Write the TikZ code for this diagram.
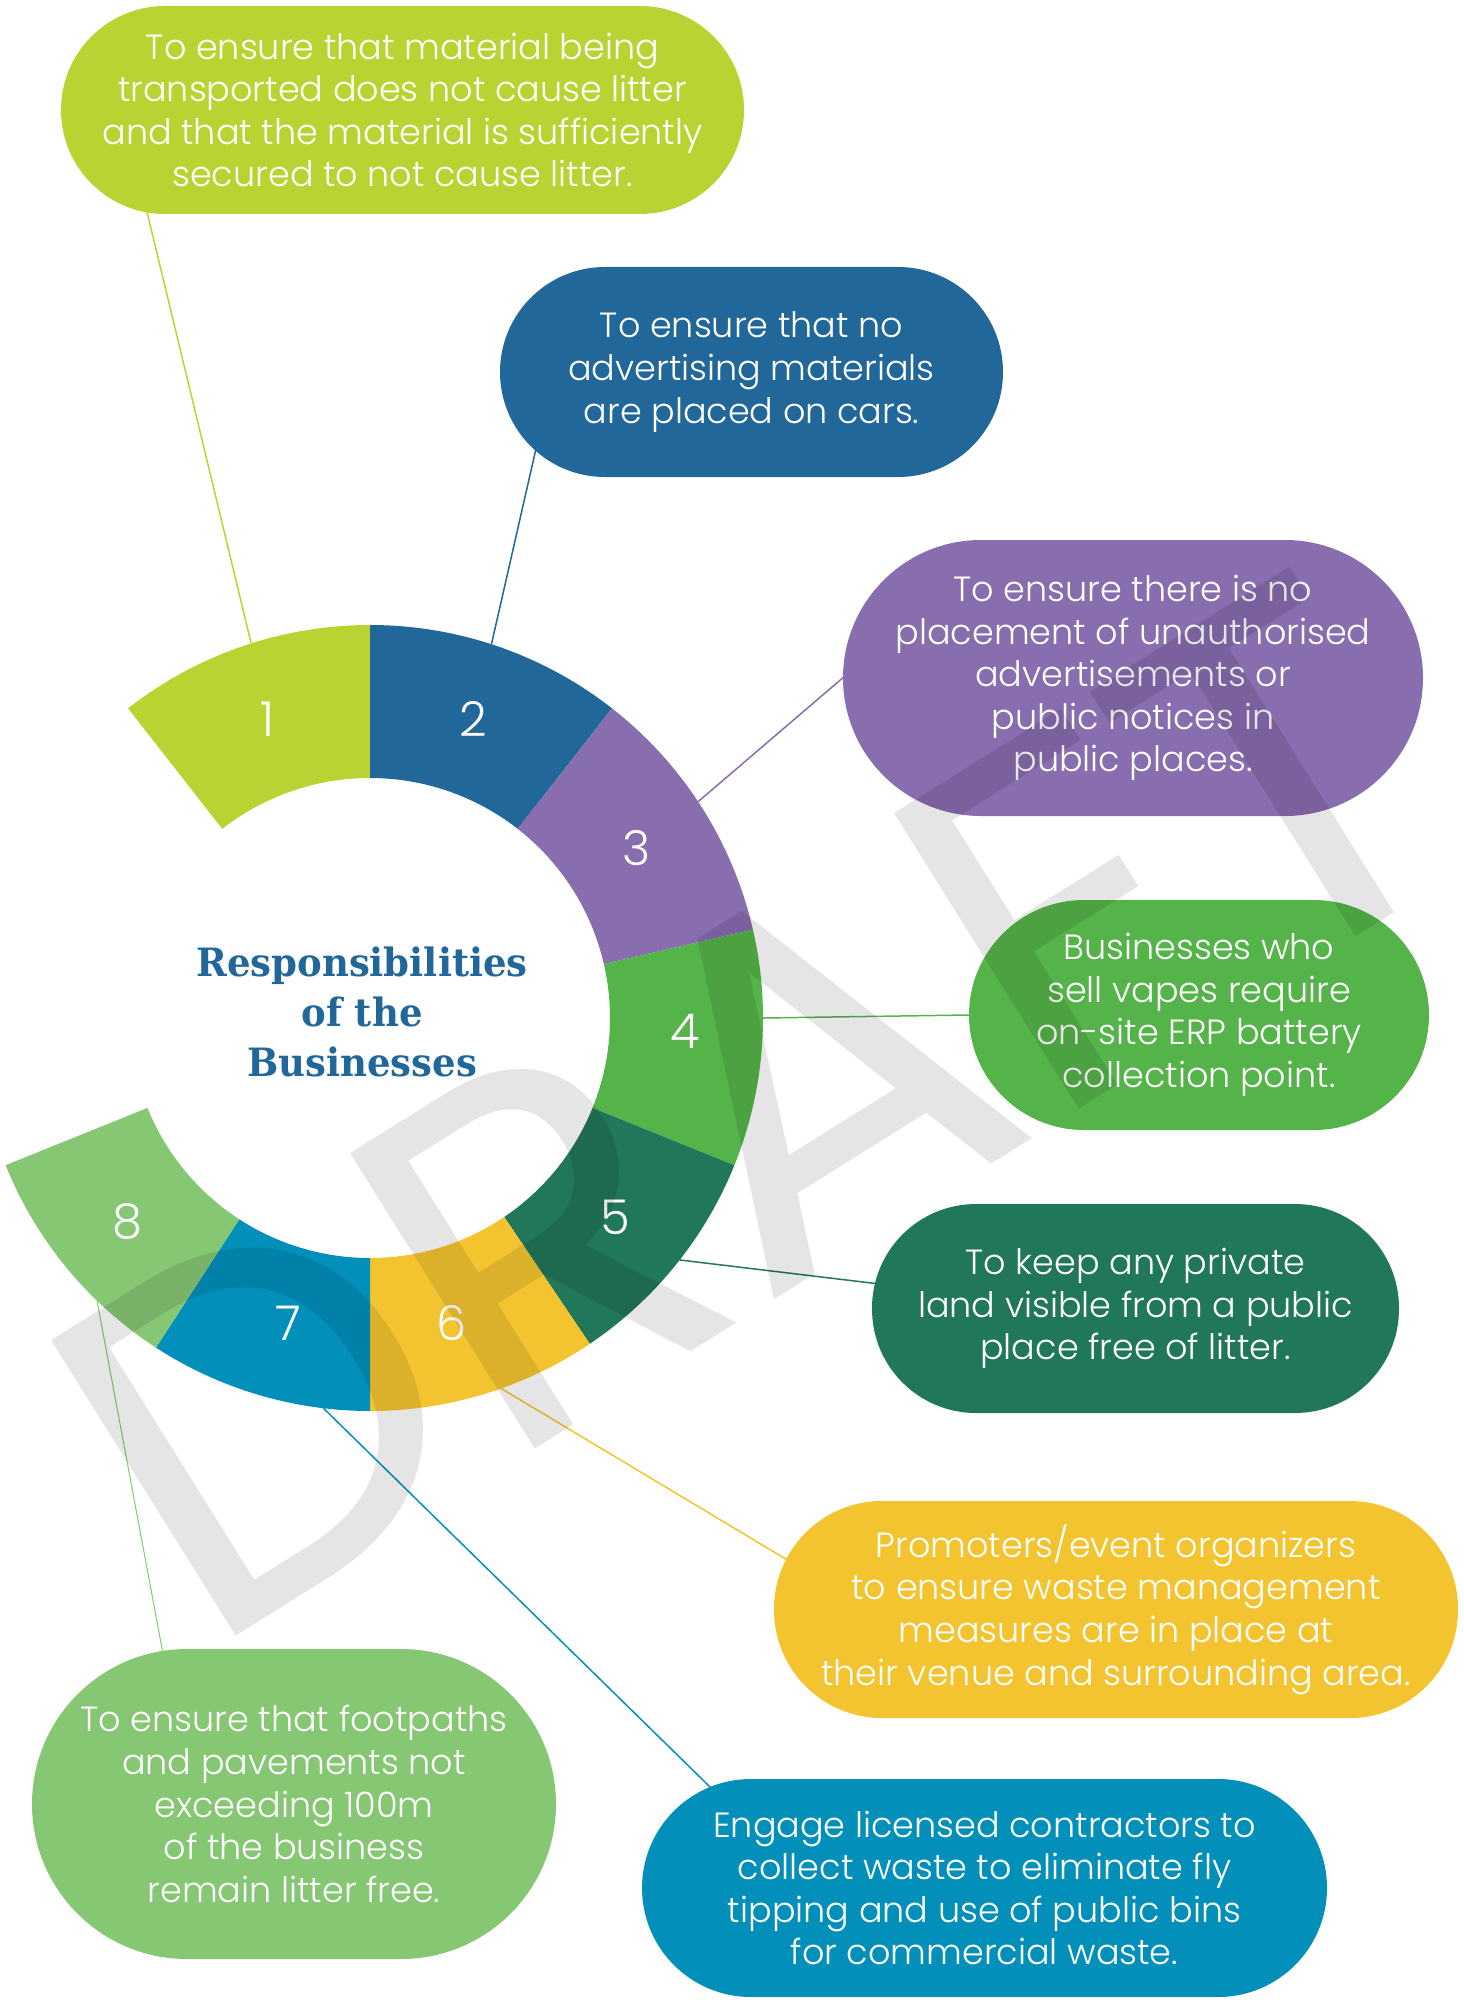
\documentclass[tikz,border=0pt]{standalone}
\usepackage{fontspec}
\setmainfont{Poppins Light}
\newfontfamily\wmfont{Poppins}
\newfontfamily\titlefont[FakeStretch=0.95]{DejaVu Serif}
\usetikzlibrary{positioning,backgrounds}

\definecolor{cone}{HTML}{B8D432}
\definecolor{ctwo}{HTML}{216799}
\definecolor{cthree}{HTML}{886DAF}
\definecolor{cfour}{HTML}{55B449}
\definecolor{cfive}{HTML}{21775A}
\definecolor{csix}{HTML}{F4C430}
\definecolor{cseven}{HTML}{0290BA}
\definecolor{ceight}{HTML}{86C774}

\begin{document}
\begin{tikzpicture}[x=0.5pt,y=-0.5pt]
\tikzstyle{box}=[rectangle,inner sep=0pt,align=center,text=white,font=\fontsize{17.5}{21.3}\selectfont]
\tikzstyle{num}=[text=white,font=\fontsize{24}{24}\selectfont]
\tikzstyle{link}=[line width=0.75pt,shorten >=-3pt]
\tikzstyle{title}=[align=center,text=ctwo,font=\titlefont\bfseries\fontsize{19.5}{25}\selectfont]
\useasboundingbox (0,0) rectangle (1463,2000);

\begin{scope}[shift={(370,1018)},yscale=-1]
\foreach \a/\b/\c/\n/\m in {90/128/cone/1/109, 52/90/ctwo/2/71, 13/52/cthree/3/32.5, -22/13/cfour/4/-2.5,
  -56/-22/cfive/5/-39, -90/-56/csix/6/-75, -123/-90/cseven/7/-105, -158/-123/ceight/8/-140}{
  \fill[\c] (\a:240) -- (\a:393) arc[start angle=\a,end angle=\b,radius=393]
    -- (\b:240) arc[start angle=\b,end angle=\a,radius=240] -- cycle;
  \node[num] (n\n) at (\m:316) {\n};
}
\coordinate (p1) at (107.6:393);
\coordinate (p2) at (72:393);
\coordinate (p3) at (33.4:393);
\coordinate (p4) at (0:393);
\coordinate (p5) at (-38:393);
\coordinate (p6) at (-70.5:393);
\coordinate (p7) at (-96.8:393);
\coordinate (p8) at (-134:393);
\end{scope}

\node[title] (title) at (362,1012) {Responsibilities\\of the\\Businesses};

\node[box,fill=cone,minimum width=341.5pt,minimum height=104pt,rounded corners=52pt] (b1) at (402.5,110)
  {To ensure that material being\\transported does not cause litter\\and that the material is sufficiently\\secured to not cause litter.};
\node[box,fill=ctwo,minimum width=251.5pt,minimum height=105pt,rounded corners=52.5pt] (b2) at (751.5,372)
  {To ensure that no\\advertising materials\\are placed on cars.};
\node[box,fill=cthree,minimum width=290pt,minimum height=138pt,rounded corners=69pt] (b3) at (1133,678)
  {To ensure there is no\\placement of unauthorised\\advertisements or\\public notices in\\public places.};
\node[box,fill=cfour,minimum width=230pt,minimum height=115pt,rounded corners=57.5pt] (b4) at (1199,1015)
  {Businesses who\\sell vapes require\\on-site ERP battery\\collection point.};
\node[box,fill=cfive,minimum width=263.5pt,minimum height=104.5pt,rounded corners=52pt] (b5) at (1135.5,1308.5)
  {To keep any private\\land visible from a public\\place free of litter.};
\node[box,fill=csix,minimum width=342pt,minimum height=108.5pt,rounded corners=54pt] (b6) at (1116,1609.5)
  {Promoters/event organizers\\to ensure waste management\\measures are in place at\\their venue and surrounding area.};
\node[box,fill=cseven,minimum width=342.5pt,minimum height=109pt,rounded corners=54.5pt] (b7) at (984.5,1888)
  {Engage licensed contractors to\\collect waste to eliminate fly\\tipping and use of public bins\\for commercial waste.};
\node[box,fill=ceight,minimum width=262pt,minimum height=155pt,rounded corners=77.5pt] (b8) at (294,1804)
  {To ensure that footpaths\\and pavements not\\exceeding 100m\\of the business\\remain litter free.};

\begin{pgfonlayer}{background}
\draw[link,cone] (p1) -- ([xshift=43.5pt]b1.south west);
\draw[link,ctwo] (p2) -- ([xshift=18pt,yshift=13.5pt]b2.south west);
\draw[link,cthree] (p3) -- (b3.west);
\draw[link,cfour] (p4) -- (b4.west);
\draw[link,cfive] (p5) -- ([xshift=2pt,yshift=12.5pt]b5.west);
\draw[link,csix] (p6) -- ([xshift=6.5pt,yshift=25pt]b6.west);
\draw[link,cseven] (p7) -- ([xshift=33.5pt,yshift=-3.5pt]b7.north west);
\draw[link,ceight,line width=0.5pt] (p8) -- ([xshift=65.5pt,yshift=-1.5pt]b8.north west);
\end{pgfonlayer}

\node[rotate=32,text=black,text opacity=0.1,font=\wmfont\fontsize{250}{250}\selectfont] (wm) at (754,1107) {DRAFT};
\end{tikzpicture}
\end{document}
